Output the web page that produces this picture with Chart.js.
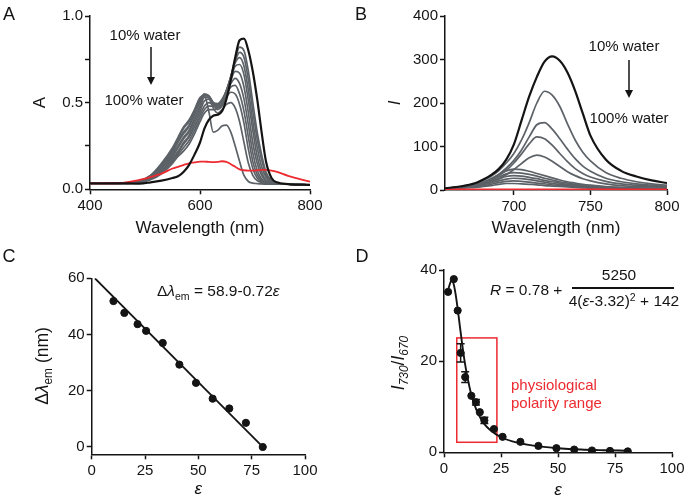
<!DOCTYPE html>
<html><head><meta charset="utf-8">
<script src="https://cdn.jsdelivr.net/npm/chart.js@4.4.1/dist/chart.umd.min.js"></script>
<style>
body{margin:0;background:#fff;}
#wrap{position:relative;width:688px;height:500px;overflow:hidden;font-family:'Liberation Sans',Arial,Helvetica,sans-serif;color:#141414;}
.pane{position:absolute;width:344px;height:250px;}
.t{position:absolute;white-space:nowrap;transform:translate(-50%,-50%);line-height:1;}
.l{position:absolute;white-space:nowrap;transform:translate(0,-50%);line-height:1;}
.rot{position:absolute;white-space:nowrap;transform:translate(-50%,-50%) rotate(-90deg);line-height:1;}
sub{font-size:0.68em;vertical-align:-0.35em;line-height:0;}
sup{font-size:0.68em;vertical-align:0.5em;line-height:0;}
</style></head><body>
<div id="wrap">
<div class="pane" style="left:0;top:0"><canvas id="cA" width="344" height="250"></canvas></div>
<div class="pane" style="left:344px;top:0"><canvas id="cB" width="344" height="250"></canvas></div>
<div class="pane" style="left:0;top:250px"><canvas id="cC" width="344" height="250"></canvas></div>
<div class="pane" style="left:344px;top:250px"><canvas id="cD" width="344" height="250"></canvas></div>

<div class="t" style="left:9px;top:14px;font-size:18px">A</div>
<div class="t" style="left:361px;top:14px;font-size:18px">B</div>
<div class="t" style="left:9px;top:256px;font-size:18px">C</div>
<div class="t" style="left:362px;top:256px;font-size:18px">D</div>

<div class="t" style="left:145px;top:34px;font-size:15px">10% water</div>
<div class="t" style="left:144px;top:99px;font-size:15px">100% water</div>
<div class="t" style="left:624px;top:45px;font-size:15px">10% water</div>
<div class="t" style="left:629px;top:117px;font-size:15px">100% water</div>
<svg style="position:absolute;left:0;top:0" width="688" height="500">
  <line x1="151" y1="47" x2="151" y2="78" stroke="#141414" stroke-width="1.5"/>
  <polygon points="147,77 155,77 151,85" fill="#141414"/>
  <line x1="629" y1="60" x2="629" y2="91" stroke="#141414" stroke-width="1.5"/>
  <polygon points="625,90 633,90 629,98" fill="#141414"/>
</svg>

<div class="l" style="left:157px;top:291px;font-size:15.5px">Δ<i>λ</i><sub>em</sub> = 58.9-0.72<i>ε</i></div>
<div class="rot" style="left:43px;top:366px;font-size:17.5px">Δ<i>λ</i><sub>em</sub> (nm)</div>

<div class="l" style="left:490px;top:290px;font-size:15.5px"><i>R</i> = 0.78 +</div>
<div class="t" style="left:619px;top:275px;font-size:15.5px">5250</div>
<div style="position:absolute;left:572px;top:287px;width:102px;height:1.5px;background:#141414"></div>
<div class="t" style="left:624px;top:301px;font-size:15.5px">4(<i>ε</i>-3.32)<sup>2</sup> + 142</div>
<div class="rot" style="left:399px;top:363px;font-size:17.5px"><i>I</i><sub><i>730</i></sub>/<i>I</i><sub><i>670</i></sub></div>
<div class="l" style="left:511px;top:384px;font-size:15px;color:#ec2a30">physiological</div>
<div class="l" style="left:511px;top:402px;font-size:15px;color:#ec2a30">polarity range</div>
</div>

<script>
// ---------- Panel A: absorption spectra ----------
const absWl = [400, 450, 490, 510, 530, 550, 560, 570, 580, 590, 600, 608, 616, 624, 632, 640, 648, 656, 664, 672, 680, 688, 696, 704, 712, 720, 730, 740, 760, 800];
const abs10Water = [0.035, 0.035, 0.033, 0.04, 0.05, 0.065, 0.075, 0.10, 0.14, 0.20, 0.27, 0.35, 0.40, 0.425, 0.43, 0.45, 0.52, 0.63, 0.76, 0.86, 0.87, 0.80, 0.68, 0.52, 0.33, 0.16, 0.065, 0.04, 0.03, 0.025];
const abs100Water = [0.035, 0.035, 0.055, 0.07, 0.09, 0.12, 0.13, 0.14, 0.15, 0.155, 0.16, 0.16, 0.158, 0.157, 0.158, 0.162, 0.158, 0.145, 0.13, 0.115, 0.11, 0.108, 0.108, 0.11, 0.112, 0.112, 0.108, 0.10, 0.078, 0.044];
const absMid1 = [0.03, 0.033, 0.038, 0.055, 0.09, 0.15, 0.19, 0.22, 0.26, 0.32, 0.39, 0.44, 0.46, 0.46, 0.47, 0.50, 0.56, 0.65, 0.75, 0.82, 0.80, 0.68, 0.50, 0.33, 0.20, 0.10, 0.05, 0.035, 0.03, 0.025];
const absMid2 = [0.03, 0.033, 0.04, 0.06, 0.10, 0.16, 0.20, 0.24, 0.28, 0.34, 0.41, 0.46, 0.48, 0.48, 0.485, 0.51, 0.57, 0.65, 0.74, 0.79, 0.76, 0.63, 0.45, 0.29, 0.17, 0.085, 0.045, 0.033, 0.03, 0.025];
const absMid3 = [0.03, 0.033, 0.04, 0.063, 0.105, 0.17, 0.21, 0.26, 0.30, 0.36, 0.43, 0.48, 0.50, 0.49, 0.49, 0.51, 0.57, 0.65, 0.73, 0.76, 0.71, 0.57, 0.39, 0.24, 0.13, 0.07, 0.04, 0.033, 0.03, 0.025];
const absMid4 = [0.03, 0.033, 0.04, 0.065, 0.11, 0.18, 0.22, 0.27, 0.31, 0.38, 0.45, 0.51, 0.52, 0.50, 0.495, 0.52, 0.57, 0.64, 0.71, 0.72, 0.66, 0.51, 0.34, 0.19, 0.10, 0.055, 0.037, 0.032, 0.03, 0.025];
const absMid5 = [0.03, 0.034, 0.042, 0.068, 0.12, 0.19, 0.24, 0.29, 0.33, 0.40, 0.47, 0.53, 0.53, 0.50, 0.49, 0.51, 0.56, 0.63, 0.68, 0.67, 0.59, 0.44, 0.27, 0.15, 0.08, 0.045, 0.035, 0.032, 0.03, 0.025];
const absMid6 = [0.03, 0.034, 0.043, 0.07, 0.125, 0.20, 0.25, 0.30, 0.34, 0.41, 0.48, 0.54, 0.535, 0.50, 0.48, 0.50, 0.55, 0.61, 0.64, 0.61, 0.52, 0.37, 0.21, 0.11, 0.06, 0.04, 0.034, 0.031, 0.03, 0.025];
const absMid7 = [0.03, 0.034, 0.045, 0.072, 0.13, 0.21, 0.27, 0.32, 0.36, 0.43, 0.50, 0.545, 0.54, 0.50, 0.47, 0.49, 0.54, 0.59, 0.60, 0.55, 0.45, 0.30, 0.16, 0.085, 0.05, 0.038, 0.033, 0.031, 0.03, 0.025];
const absMid8 = [0.03, 0.034, 0.046, 0.075, 0.135, 0.22, 0.28, 0.33, 0.37, 0.44, 0.51, 0.55, 0.54, 0.49, 0.46, 0.48, 0.53, 0.56, 0.55, 0.49, 0.38, 0.23, 0.12, 0.065, 0.043, 0.036, 0.033, 0.031, 0.03, 0.025];
const absMid9 = [0.03, 0.035, 0.048, 0.078, 0.14, 0.23, 0.29, 0.35, 0.39, 0.45, 0.52, 0.55, 0.53, 0.47, 0.44, 0.46, 0.49, 0.50, 0.47, 0.39, 0.27, 0.15, 0.08, 0.05, 0.04, 0.035, 0.033, 0.031, 0.03, 0.025];
const absMid10 = [0.03, 0.035, 0.05, 0.08, 0.15, 0.24, 0.30, 0.36, 0.40, 0.46, 0.53, 0.54, 0.45, 0.33, 0.34, 0.365, 0.37, 0.33, 0.25, 0.16, 0.08, 0.045, 0.036, 0.033, 0.031, 0.03, 0.03, 0.03, 0.03, 0.025];
const absXTicks = [400, 600, 800];
const absYTicks = [0, 0.25, 0.5, 0.75, 1.0];

// ---------- Panel B: emission spectra ----------
const emWl = [655, 665, 675, 680, 685, 690, 695, 700, 705, 710, 715, 720, 725, 730, 735, 740, 745, 750, 760, 770, 780, 790, 800];
const em10Water = [4, 8, 16, 24, 34, 48, 70, 105, 160, 215, 260, 295, 307, 297, 270, 228, 176, 125, 70, 44, 31, 22, 16];
const em100Water = [0.8, 0.8, 0.8, 0.8, 0.8, 0.8, 0.8, 0.8, 0.8, 0.8, 0.8, 0.8, 0.8, 0.8, 0.8, 0.8, 0.8, 0.8, 0.8, 0.8, 0.8, 0.8, 0.8];
const emMid1 = [4, 8, 15, 22, 31, 44, 62, 84, 115, 155, 200, 227, 218, 192, 152, 115, 87, 67, 40, 27, 19, 14, 11];
const emMid2 = [4, 7, 13, 18, 26, 36, 50, 68, 92, 122, 150, 155, 140, 118, 94, 72, 55, 43, 27, 19, 14, 11, 9];
const emMid3 = [4, 7, 12, 17, 24, 33, 45, 62, 83, 106, 122, 118, 103, 84, 65, 49, 38, 30, 20, 14, 11, 9, 7];
const emMid4 = [4, 6, 10, 14, 19, 26, 35, 47, 61, 74, 80, 76, 66, 54, 42, 33, 26, 21, 14, 10, 8, 7, 6];
const emMid5 = [3, 6, 12, 17, 25, 35, 44, 48, 47, 43, 38, 33, 28, 23, 19, 16, 13, 11, 8, 6, 5, 4, 4];
const emMid6 = [3, 6, 11, 15, 22, 30, 37, 40, 39, 36, 32, 27, 23, 19, 16, 13, 11, 9, 7, 5, 4, 4, 3];
const emMid7 = [3, 5, 10, 13, 19, 25, 31, 33, 32, 29, 26, 22, 19, 16, 13, 11, 9, 8, 6, 5, 4, 3, 3];
const emMid8 = [3, 5, 9, 12, 16, 21, 25, 27, 26, 24, 21, 18, 15, 13, 11, 9, 8, 7, 5, 4, 3, 3, 3];
const emMid9 = [3, 5, 8, 10, 13, 17, 20, 21, 20, 18, 16, 14, 12, 10, 9, 8, 7, 6, 4, 3, 3, 2, 2];
const emMid10 = [2, 4, 6, 8, 10, 13, 15, 15, 14, 13, 12, 10, 9, 8, 7, 6, 5, 4, 3, 3, 2, 2, 2];
const emXTicks = [700, 750, 800];
const emYTicks = [0, 100, 200, 300, 400];

// ---------- Panel C: emission shift vs dielectric constant ----------
const cEps = [10.2, 15.3, 21.5, 25.5, 33.3, 41.1, 48.9, 56.7, 64.5, 72.3, 80.2];
const cShift = [51.9, 47.7, 43.7, 41.3, 37.0, 29.3, 22.8, 17.2, 13.7, 8.6, 0];
const cFitEps = [1.5, 80.2];
const cFitShift = [60, 0];
const cXTicks = [0, 25, 50, 75, 100];
const cYTicks = [0, 20, 40, 60];

// ---------- Panel D: ratio vs dielectric constant ----------
const dEps = [1.8, 4.3, 6.0, 7.3, 9.3, 12.0, 14.0, 15.7, 17.7, 21.9, 25.7, 33.5, 41.4, 49.3, 57.1, 64.9, 72.8, 80.6];
const dRatio = [35.2, 38.0, 31.1, 21.8, 16.5, 12.4, 11.0, 8.8, 7.0, 5.1, 3.4, 2.3, 1.4, 0.9, 0.6, 0.4, 0.3, 0.2];
const dErr = [0, 0, 0, 2.0, 1.2, 0, 0.6, 0, 0.7, 0, 0, 0, 0, 0, 0, 0, 0, 0];
const dFitEps = [2, 3.3, 4, 5, 6, 7, 8, 9, 10, 12, 14, 16, 18, 20, 25, 30, 40, 50, 60, 70, 80];
const dFitRatio = [36.0, 37.7, 37.3, 35.0, 31.5, 27.5, 23.6, 20.1, 17.2, 12.6, 9.6, 7.5, 6.0, 5.0, 3.3, 2.4, 1.4, 0.9, 0.6, 0.45, 0.35];
const dRangeEps = [5.6, 23.2];
const dRangeRatio = [2.2, 25.1];
const dXTicks = [0, 25, 50, 75, 100];
const dYTicks = [0, 20, 40];

// ---------- helpers ----------
Chart.defaults.font.family = "'Liberation Sans', Arial, Helvetica, sans-serif";
Chart.defaults.color = '#141414';
Chart.defaults.animation = false;
const INK = '#141414', GRAY = '#5c6267', RED = '#ec2a30';

function pts(xs, ys) { return xs.map((x, i) => ({x: x, y: ys[i]})); }

function axis(o) {
  return {
    type: 'linear', position: o.pos, min: o.min, max: o.max,
    afterBuildTicks: s => { s.ticks = o.ticks.map(v => ({value: v})); },
    afterFit: o.pos === 'left' ? (s => { s.width = o.size; }) : (s => { s.height = o.size; }),
    grid: {display: true, drawOnChartArea: false, drawTicks: true, tickLength: 5, tickWidth: 1.5, tickColor: INK},
    border: {display: true, color: INK, width: 1.5},
    ticks: {font: {size: 15}, color: INK, padding: o.pos === 'left' ? 2 : 3, maxRotation: 0, autoSkip: false,
            callback: o.fmt || (v => String(v))},
    title: o.title ? {display: true, text: o.title, color: INK,
                      font: {size: 17, style: o.italic ? 'italic' : 'normal'}, padding: o.tpad}
                   : {display: false}
  };
}

function lineSet(xs, ys, color, width) {
  return {data: pts(xs, ys), showLine: true, pointRadius: 0, borderColor: color, borderWidth: width,
          cubicInterpolationMode: 'monotone', fill: false};
}

const basePlugins = {legend: {display: false}, tooltip: {enabled: false}};

// Panel A
new Chart(document.getElementById('cA'), {
  type: 'scatter',
  data: {datasets: [
    lineSet(absWl, abs10Water, INK, 2.2),
    lineSet(absWl, abs100Water, RED, 1.8),
    ...[absMid1, absMid2, absMid3, absMid4, absMid5, absMid6, absMid7, absMid8, absMid9, absMid10]
      .map(a => lineSet(absWl, a, GRAY, 1.7))
  ]},
  options: {
    responsive: false, layout: {padding: {left: 0, top: 16, right: 34, bottom: 0}},
    plugins: basePlugins,
    scales: {
      x: axis({pos: 'bottom', min: 400, max: 800, ticks: absXTicks, size: 60.7, title: 'Wavelength (nm)', tpad: {top: 0, bottom: 11.8}}),
      y: axis({pos: 'left', min: 0, max: 1, ticks: absYTicks, size: 90, title: 'A', tpad: {top: 29.8, bottom: 0},
               fmt: v => (Math.abs(v * 2 - Math.round(v * 2)) < 1e-9 ? v.toFixed(1) : '')})
    }
  }
});

// Panel B
new Chart(document.getElementById('cB'), {
  type: 'scatter',
  data: {datasets: [
    lineSet(emWl, em10Water, INK, 2.2),
    lineSet(emWl, em100Water, RED, 2.2),
    ...[emMid1, emMid2, emMid3, emMid4, emMid5, emMid6, emMid7, emMid8, emMid9, emMid10]
      .map(a => lineSet(emWl, a, GRAY, 1.7))
  ]},
  options: {
    responsive: false, layout: {padding: {left: 0, top: 16, right: 21, bottom: 0}},
    plugins: basePlugins,
    scales: {
      x: axis({pos: 'bottom', min: 655, max: 800, ticks: emXTicks, size: 60, title: 'Wavelength (nm)', tpad: {top: 0, bottom: 11.8}}),
      y: axis({pos: 'left', min: 0, max: 400, ticks: emYTicks, size: 101, title: 'I', italic: true, tpad: {top: 41.3, bottom: 0}})
    }
  }
});

// Panel C
new Chart(document.getElementById('cC'), {
  type: 'scatter',
  data: {datasets: [
    {data: pts(cEps, cShift), pointRadius: 3.6, pointBackgroundColor: INK, pointBorderColor: INK, showLine: false},
    {data: pts(cFitEps, cFitShift), showLine: true, pointRadius: 0, borderColor: INK, borderWidth: 1.8}
  ]},
  options: {
    responsive: false, layout: {padding: {left: 0, top: 28.3, right: 39, bottom: 0}},
    plugins: basePlugins,
    scales: {
      x: axis({pos: 'bottom', min: 0, max: 100, ticks: cXTicks, size: 45.7, title: 'ε', italic: true, tpad: {top: 0, bottom: 0.8}}),
      y: axis({pos: 'left', min: -2.6, max: 60, ticks: cYTicks, size: 91.7})
    }
  }
});

// Panel D
const rangeBox = {
  id: 'rangeBox',
  beforeDatasetsDraw(chart) {
    const {ctx, scales: {x, y}} = chart;
    const x0 = x.getPixelForValue(dRangeEps[0]), x1 = x.getPixelForValue(dRangeEps[1]);
    const y0 = y.getPixelForValue(dRangeRatio[1]), y1 = y.getPixelForValue(dRangeRatio[0]);
    ctx.save(); ctx.strokeStyle = RED; ctx.lineWidth = 1.5;
    ctx.strokeRect(x0, y0, x1 - x0, y1 - y0); ctx.restore();
  }
};
const errBars = {
  id: 'errBars',
  afterDatasetsDraw(chart) {
    const {ctx, scales: {x, y}} = chart;
    ctx.save(); ctx.strokeStyle = INK; ctx.lineWidth = 1.5;
    dEps.forEach((e, i) => {
      const err = dErr[i]; if (!err) return;
      const px = x.getPixelForValue(e);
      const top = y.getPixelForValue(dRatio[i] + err), bot = y.getPixelForValue(dRatio[i] - err);
      ctx.beginPath();
      ctx.moveTo(px, top); ctx.lineTo(px, bot);
      ctx.moveTo(px - 4, top); ctx.lineTo(px + 4, top);
      ctx.moveTo(px - 4, bot); ctx.lineTo(px + 4, bot);
      ctx.stroke();
    });
    ctx.restore();
  }
};
new Chart(document.getElementById('cD'), {
  type: 'scatter',
  data: {datasets: [
    {data: pts(dEps, dRatio), pointRadius: 3.6, pointBackgroundColor: INK, pointBorderColor: INK, showLine: false},
    lineSet(dFitEps, dFitRatio, INK, 1.9)
  ]},
  options: {
    responsive: false, layout: {padding: {left: 0, top: 20, right: 16, bottom: 0}},
    plugins: basePlugins,
    scales: {
      x: axis({pos: 'bottom', min: 0, max: 100, ticks: dXTicks, size: 47.7, title: 'ε', italic: true, tpad: {top: 0, bottom: 0}}),
      y: axis({pos: 'left', min: 0, max: 40, ticks: dYTicks, size: 100})
    }
  },
  plugins: [rangeBox, errBars]
});
</script>
</body></html>
